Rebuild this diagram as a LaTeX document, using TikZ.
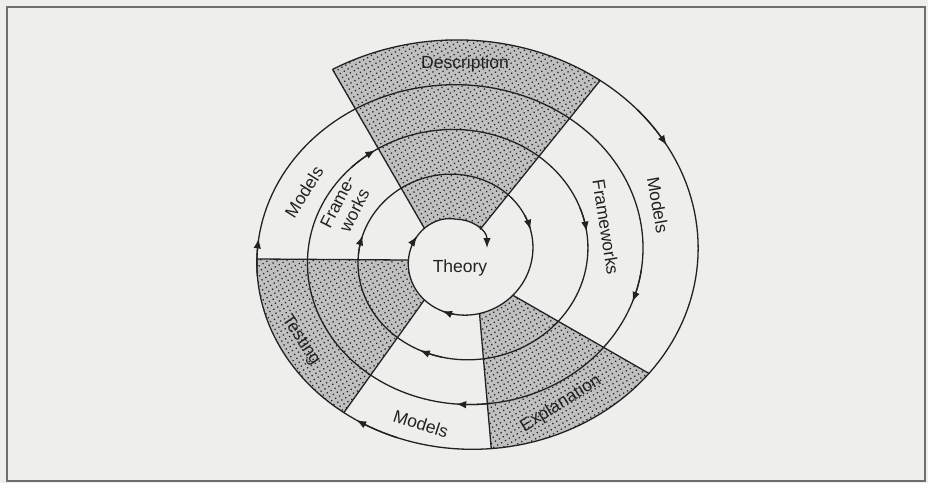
\documentclass[tikz,border=0pt]{standalone}
\usepackage{fontspec}
\setmainfont{Liberation Sans}
\usetikzlibrary{arrows.meta,patterns.meta}
\definecolor{paper}{RGB}{238,238,236}
\definecolor{ink}{RGB}{34,34,34}
\definecolor{shade}{RGB}{192,192,192}
\definecolor{framegray}{RGB}{110,110,110}
\begin{document}
\begin{tikzpicture}[x=1pt,y=-1pt,
  declare function={sx(\t)=465.4-0.0063*\t+(246.4-0.147*\t)*sin(\t); sy(\t)=255.8-(215.8-0.1245*\t)*cos(\t);},
  spiral/.style={draw=ink, line width=1.3pt},
  edge/.style={draw=ink, line width=1.3pt},
  flowtip/.style={draw=ink, line width=1.3pt, -{Latex[length=10pt,width=7.5pt]}},
  stipple/.style={fill=shade, postaction={pattern={Dots[distance=4.5pt,radius=0.9pt,angle=30]}, pattern color=ink}},
  lbl/.style={text=ink, font=\fontsize{17.5}{19}\selectfont, inner sep=0pt, align=center}]
\fill[paper] (0,0) rectangle (928,483);
\useasboundingbox (0,0) rectangle (928,483);
\draw[framegray, line width=1.8pt] (7,7) rectangle (925,481);

\coordinate (desc-ol) at ({sx(-32)},{sy(-32)});
\coordinate (desc-or) at ({sx(34)},{sy(34)});
\coordinate (desc-il) at ({sx(1390)},{sy(1390)});
\coordinate (desc-ir) at (480.1,229.4);
\coordinate (test-ot) at ({sx(269)},{sy(269)});
\coordinate (test-ob) at ({sx(214)},{sy(214)});
\coordinate (test-it) at ({sx(1345)},{sy(1345)});
\coordinate (test-ib) at ({sx(1296)},{sy(1296)});
\coordinate (expl-ot) at ({sx(126)},{sy(126)});
\coordinate (expl-ol) at ({sx(173)},{sy(173)});
\coordinate (expl-it) at ({sx(1207)},{sy(1207)});
\coordinate (expl-il) at ({sx(1240)},{sy(1240)});
\coordinate (inner-top) at ({sx(1440)},{sy(1440)});
\coordinate (inner-end) at (487,248);

\fill[stipple] (desc-ol) -- (desc-il) -- plot[domain=1390:1440, samples=20] ({sx(\x)},{sy(\x)})
  .. controls (465.3,219.3) and (474.2,222.9) .. (desc-ir)
  -- (desc-or) -- plot[domain=34:-32, samples=40] ({sx(\x)},{sy(\x)}) -- cycle;
\fill[stipple] (test-ot) -- (test-it) -- plot[domain=1345:1296, samples=20] ({sx(\x)},{sy(\x)})
  -- (test-ob) -- plot[domain=214:269, samples=30] ({sx(\x)},{sy(\x)}) -- cycle;
\fill[stipple] (expl-ol) -- (expl-il) -- plot[domain=1240:1207, samples=20] ({sx(\x)},{sy(\x)})
  -- (expl-ot) -- plot[domain=126:173, samples=30] ({sx(\x)},{sy(\x)}) -- cycle;

\draw[spiral] plot[domain=-32:1440, samples=700] ({sx(\x)},{sy(\x)});
\draw[flowtip] (inner-top) .. controls (472,219.3) and (487,230) .. (inner-end);

\draw[edge] (desc-ol) -- (desc-il);
\draw[edge] (desc-or) -- (desc-ir);
\draw[edge] (test-ot) -- (test-it);
\draw[edge] (test-ob) -- (test-ib);
\draw[edge] (expl-ol) -- (expl-il);
\draw[edge] (expl-ot) -- (expl-it);

\foreach \t in {58,210,275.5,467,542,684,798,921,1003,1149,1275,1376}
{
  \draw[flowtip] plot[domain=\t-12:\t, samples=10] ({sx(\x)},{sy(\x)});
}

\node[lbl] (description) at (465,64) {Description};
\node[lbl] (theory) at (460,268) {Theory};
\node[lbl, rotate=58] (models-l) at (304,192) {Models};
\node[lbl, rotate=63] (frameworks-l) at (346,206) {Frame-\\works};
\node[lbl, rotate=-81] (frameworks-r) at (606,227) {Frameworks};
\node[lbl, rotate=-80] (models-r) at (658,205) {Models};
\node[lbl, rotate=-56] (testing) at (301,340) {Testing};
\node[lbl, rotate=32] (explanation) at (561,404) {Explanation};
\node[lbl, rotate=-18] (models-b) at (421,424) {Models};
\end{tikzpicture}
\end{document}
